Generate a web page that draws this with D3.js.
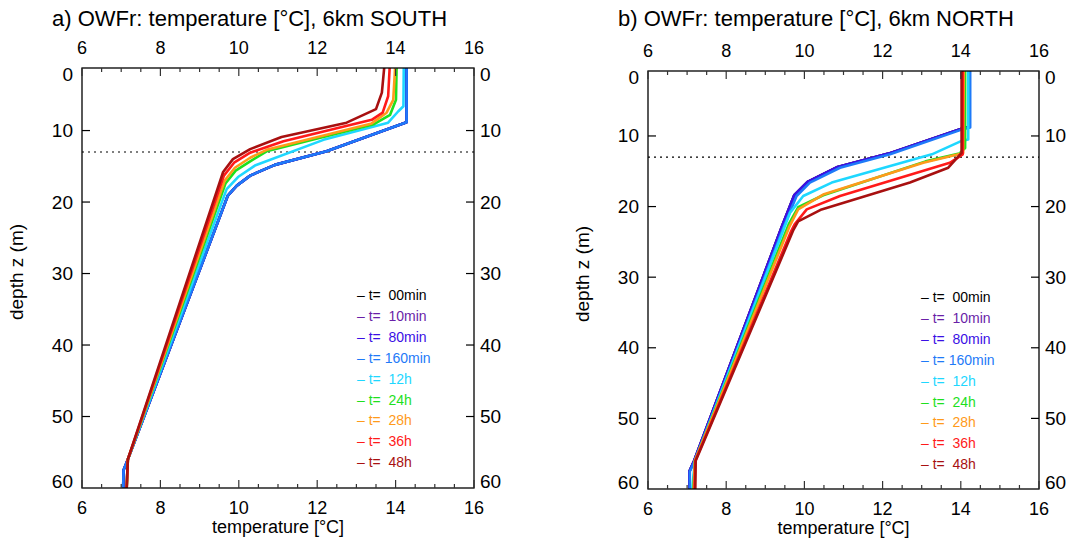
<!DOCTYPE html>
<html>
<head>
<meta charset="utf-8">
<script src="https://cdn.jsdelivr.net/npm/d3@7"></script>
<style>
  body { margin: 0; background: #fff; }
  svg { font-family: "Liberation Sans", Arial, Helvetica, sans-serif; }
</style>
</head>
<body>
<svg id="chart" width="1069" height="545"></svg>
<script>
// legend labels and colours (same order as drawing)
const runLabels = ["t=  00min", "t=  10min", "t=  80min", "t= 160min", "t=  12h", "t=  24h", "t=  28h", "t=  36h", "t=  48h"];
const runColors = ["#000000", "#6a1fa8", "#3a10e5", "#1e7af8", "#1ed7ff", "#1ee01e", "#ff9a1a", "#ff1a1a", "#a81010"];

const xTicks = [6, 8, 10, 12, 14, 16];
const yTicks = [0, 10, 20, 30, 40, 50, 60];
const mldDepth = 13; // dotted line

// profiles: [temperature, depth]
// 6km SOUTH
const south00 = [[14.28,0],[14.28,8.85],[12.24,12.9],[10.92,14.8],[10.29,16.3],[9.95,17.7],[9.72,19.1],[7.17,56],[7.06,57.5],[7.05,60]];
const south10 = [[14.28,0],[14.28,8.85],[12.24,12.9],[10.92,14.8],[10.29,16.3],[9.95,17.7],[9.72,19.1],[7.17,56],[7.06,57.5],[7.05,60]];
const south80 = [[14.28,0],[14.28,8.85],[12.24,12.9],[10.92,14.8],[10.29,16.3],[9.95,17.7],[9.72,19.1],[7.17,56],[7.06,57.5],[7.05,60]];
const south160 = [[14.28,0],[14.28,8.85],[12.24,12.9],[10.92,14.8],[10.29,16.3],[9.95,17.7],[9.72,19.1],[7.17,56],[7.06,57.5],[7.05,60]];
const south12h = [[14.21,0],[14.2,6.6],[14.07,7.3],[13.81,8.9],[12.16,11.3],[10.41,14.9],[9.98,16.5],[9.69,18.2],[7.17,56],[7.14,60]];
const south24h = [[14.03,0],[14.01,5.7],[13.86,7.8],[13.45,9.1],[10.71,12.9],[10.29,14.3],[9.92,15.6],[9.66,17.4],[7.17,56],[7.14,60]];
const south28h = [[14.0,0],[13.94,5.7],[13.77,7.5],[13.39,9.0],[10.71,12.7],[10.29,13.8],[9.9,15.2],[9.64,17.0],[7.17,56],[7.14,60]];
const south36h = [[13.86,0],[13.81,5.2],[13.67,7.5],[13.39,8.5],[11.14,11.5],[10.29,13.1],[9.88,14.5],[9.62,16.3],[7.17,56],[7.14,60]];
const south48h = [[13.73,0],[13.65,4.7],[13.5,7.0],[12.75,8.9],[11.09,10.9],[10.29,12.6],[9.85,14.0],[9.6,15.8],[7.17,56],[7.14,60]];

// 6km NORTH
const north00 = [[14.22,0],[14.22,8.7],[14.0,9.0],[12.15,12.5],[10.85,14.4],[10.08,16.5],[9.74,18.4],[9.42,22.9],[7.18,56],[7.06,57.5],[7.06,60]];
const north10 = [[14.22,0],[14.22,8.7],[14.0,9.0],[12.15,12.5],[10.85,14.4],[10.08,16.5],[9.74,18.4],[9.42,22.9],[7.18,56],[7.06,57.5],[7.06,60]];
const north80 = [[14.22,0],[14.22,8.7],[14.0,9.0],[12.15,12.5],[10.85,14.4],[10.08,16.5],[9.74,18.4],[9.42,22.9],[7.18,56],[7.06,57.5],[7.06,60]];
const north160 = [[14.24,0],[14.24,8.8],[14.02,9.1],[12.19,12.6],[10.91,14.5],[10.14,16.6],[9.80,18.5],[9.46,23.0],[7.2,56],[7.07,57.5],[7.07,60]];
const north12h = [[14.19,0],[14.19,10.5],[14.02,10.7],[13.26,12.6],[10.70,16.6],[9.97,18.5],[9.63,20.9],[7.2,56],[7.13,60]];
const north24h = [[14.11,0],[14.11,11.7],[13.96,12.5],[13.1,13.6],[10.48,18.4],[9.84,20.1],[9.6,22.5],[7.2,56],[7.16,60]];
const north28h = [[14.08,0],[14.06,12.4],[13.94,12.6],[13.04,13.8],[10.48,18.3],[9.84,20.4],[9.62,22.8],[7.2,56],[7.17,60]];
const north36h = [[14.05,0],[14.05,12.6],[13.72,13.8],[10.91,18.5],[10.06,20.4],[9.75,22.5],[9.66,23.5],[7.21,56],[7.19,60]];
const north48h = [[14.02,0],[14.02,12.4],[13.68,14.5],[12.70,16.6],[10.44,20.4],[9.84,22.1],[9.72,23.3],[7.22,56],[7.21,60]];

const panels = [
  { id: "a", title: "a) OWFr: temperature [°C], 6km SOUTH", titleX: 52,
    left: 82, right: 474, top: 68, bottom: 488, zTop: 1.25, legX: 357, legY: 300,
    profiles: [south00, south10, south80, south160, south12h, south24h, south28h, south36h, south48h] },
  { id: "b", title: "b) OWFr: temperature [°C], 6km NORTH", titleX: 618,
    left: 648, right: 1039, top: 71, bottom: 489, zTop: 0.8, legX: 921, legY: 302,
    profiles: [north00, north10, north80, north160, north12h, north24h, north28h, north36h, north48h] }
];

const svg = d3.select("#chart");

panels.forEach(p => {
  const x = d3.scaleLinear().domain([6, 16]).range([p.left, p.right]);
  const y = d3.scaleLinear().domain([p.zTop, 60]).range([p.top, p.bottom]);
  const g = svg.append("g");

  g.append("defs").append("clipPath").attr("id", "clip" + p.id)
    .append("rect")
    .attr("x", p.left).attr("y", p.top)
    .attr("width", p.right - p.left).attr("height", p.bottom - p.top);

  // title
  g.append("text")
    .attr("x", p.titleX).attr("y", 26)
    .style("font-size", "22px")
    .text(p.title);

  // dotted line
  g.append("line")
    .attr("x1", p.left).attr("x2", p.right)
    .attr("y1", y(mldDepth)).attr("y2", y(mldDepth))
    .attr("stroke", "#000").attr("stroke-width", 1.1)
    .attr("stroke-dasharray", "2,4");

  // profiles
  const line = d3.line().x(d => x(d[0])).y(d => y(d[1]));
  g.append("g").attr("clip-path", "url(#clip" + p.id + ")")
    .selectAll("path")
    .data(p.profiles)
    .enter()
    .append("path")
      .attr("d", line)
      .attr("fill", "none")
      .attr("stroke", (d, i) => runColors[i])
      .attr("stroke-width", 2.6)
      .attr("stroke-linejoin", "round");

  // frame
  g.append("rect")
    .attr("x", p.left).attr("y", p.top)
    .attr("width", p.right - p.left).attr("height", p.bottom - p.top)
    .attr("fill", "none").attr("stroke", "#000").attr("stroke-width", 1.3);

  // x ticks, top and bottom, pointing inward
  const minor = d3.range(6, 16.01, 0.5);
  minor.forEach(v => {
    const len = (v % 2 === 0) ? 8 : 4;
    g.append("line").attr("x1", x(v)).attr("x2", x(v))
      .attr("y1", p.bottom).attr("y2", p.bottom - len)
      .attr("stroke", "#333").attr("stroke-width", 1.2);
    g.append("line").attr("x1", x(v)).attr("x2", x(v))
      .attr("y1", p.top).attr("y2", p.top + len)
      .attr("stroke", "#333").attr("stroke-width", 1.2);
  });
  xTicks.forEach(v => {
    g.append("text").attr("x", x(v)).attr("y", p.bottom + 26)
      .attr("text-anchor", "middle").style("font-size", "18px").text(v);
    g.append("text").attr("x", x(v)).attr("y", p.top - 14)
      .attr("text-anchor", "middle").style("font-size", "18px").text(v);
  });

  // y ticks, left and right
  yTicks.forEach(v => {
    const yy = y(v);
    if (v > p.zTop && v < 60) {
      g.append("line").attr("x1", p.left).attr("x2", p.left + 8)
        .attr("y1", yy).attr("y2", yy).attr("stroke", "#000").attr("stroke-width", 1.2);
      g.append("line").attr("x1", p.right).attr("x2", p.right - 8)
        .attr("y1", yy).attr("y2", yy).attr("stroke", "#000").attr("stroke-width", 1.2);
    }
    const ly = Math.max(p.top + 6.5, Math.min(p.bottom - 6.5, yy));
    g.append("text").attr("x", p.left - 9).attr("y", ly)
      .attr("text-anchor", "end").attr("dominant-baseline", "central")
      .style("font-size", "19px").text(v);
    g.append("text").attr("x", p.right + 6).attr("y", ly)
      .attr("dominant-baseline", "central")
      .style("font-size", "19px").text(v);
  });

  // axis titles
  g.append("text")
    .attr("x", (p.left + p.right) / 2).attr("y", p.bottom + 45)
    .attr("text-anchor", "middle").style("font-size", "18px")
    .text("temperature [°C]");
  g.append("text")
    .attr("transform", "translate(" + (p.left - 59) + "," + ((p.top + p.bottom) / 2 - 6) + ") rotate(-90)")
    .attr("text-anchor", "middle").style("font-size", "19px")
    .text("depth z (m)");

  // legend
  g.append("g").selectAll("text")
    .data(runLabels)
    .enter()
    .append("text")
      .attr("x", p.legX)
      .attr("y", (d, i) => p.legY + i * 20.9)
      .attr("fill", (d, i) => runColors[i])
      .style("font-size", "14px")
      .style("white-space", "pre")
      .text(d => "– " + d);
});
</script>
</body>
</html>
